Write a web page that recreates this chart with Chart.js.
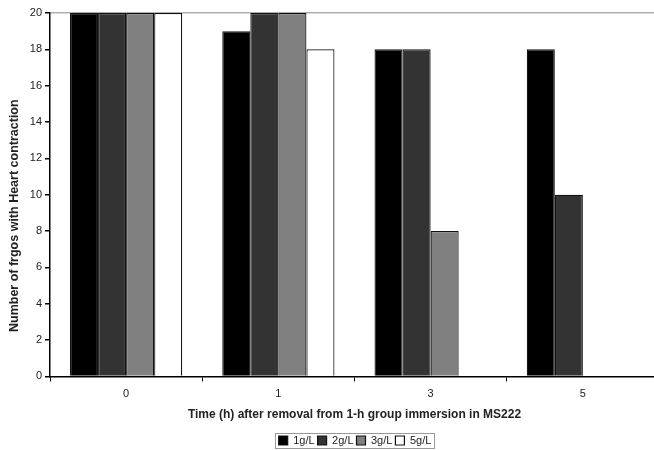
<!DOCTYPE html>
<html>
<head>
<meta charset="utf-8">
<script src="https://cdn.jsdelivr.net/npm/chart.js@4/dist/chart.umd.min.js"></script>
<style>
  html, body { margin: 0; padding: 0; overflow: hidden; background: #fff; }
  #wrap { width: 710px; height: 450px; overflow: hidden; }
</style>
</head>
<body>
<div id="wrap"><canvas id="myChart" width="710" height="456"></canvas></div>
<script>
// categories (time in h) and one array per concentration
const times = ["0", "1", "3", "5"];
const dose1 = [20, 19, 18, 18];
const dose2 = [20, 20, 18, 10];
const dose3 = [20, 20, 8, 0];
const dose5 = [20, 18, 0, 0];
const yTicks = [0, 2, 4, 6, 8, 10, 12, 14, 16, 18, 20];
const yTitle = "Number of frgos with Heart contraction";

Chart.defaults.font.family = "'Liberation Sans', Arial, sans-serif";
Chart.defaults.color = "#222";

const makeSet = (label, values, fill) => ({
  label: label,
  data: values,
  backgroundColor: fill,
  borderColor: "#111",
  borderWidth: 1.2,
  borderSkipped: "start",
  categoryPercentage: 0.737,
  barPercentage: 1,
});

// grey frame around the legend + y title sitting a bit low like the original
const extras = {
  id: "extras",
  afterDraw(chart) {
    const ctx = chart.ctx;
    const boxes = chart.legend && chart.legend.legendHitBoxes;
    if (boxes && boxes.length) {
      let left = Infinity, right = -Infinity, top = Infinity, bottom = -Infinity;
      boxes.forEach((b) => {
        left = Math.min(left, b.left);
        right = Math.max(right, b.left + b.width);
        top = Math.min(top, b.top);
        bottom = Math.max(bottom, b.top + b.height);
      });
      ctx.save();
      ctx.strokeStyle = "#999";
      ctx.lineWidth = 1;
      ctx.strokeRect(Math.round(left - 4) + 0.5, Math.round(top - 2) + 0.5,
        Math.round(right - left + 6), Math.round(bottom - top + 4));
      ctx.restore();
    }
    const area = chart.chartArea;
    ctx.save();
    ctx.translate(15, (area.top + area.bottom) / 2 + 21);
    ctx.rotate(-Math.PI / 2);
    ctx.font = "bold 12.5px 'Liberation Sans', Arial, sans-serif";
    ctx.fillStyle = "#222";
    ctx.textAlign = "center";
    ctx.textBaseline = "middle";
    ctx.fillText(yTitle, 0, 0);
    ctx.restore();
  },
};

const config = {
  type: "bar",
  data: {
    labels: times,
    datasets: [
      makeSet("1g/L", dose1, "#000000"),
      makeSet("2g/L", dose2, "#333333"),
      makeSet("3g/L", dose3, "#808080"),
      makeSet("5g/L", dose5, "#ffffff"),
    ],
  },
  options: {
    responsive: false,
    animation: false,
    layout: { padding: { top: 13, bottom: 0 } },
    plugins: {
      tooltip: { enabled: false },
      legend: {
        position: "bottom",
        labels: {
          boxWidth: 9,
          boxHeight: 9,
          padding: 3,
          font: { size: 11 },
          color: "#222",
        },
      },
    },
    scales: {
      x: {
        grid: {
          offset: true,
          drawOnChartArea: false,
          tickLength: 5,
          tickColor: "#000",
        },
        border: { color: "#000", width: 1.5 },
        ticks: { font: { size: 11 }, padding: 6 },
        title: {
          display: true,
          text: "Time (h) after removal from 1-h group immersion in MS222",
          font: { size: 12, weight: "bold" },
          padding: { top: 1, bottom: 10 },
        },
      },
      y: {
        min: 0,
        max: 20,
        afterBuildTicks(scale) {
          scale.ticks = yTicks.map((v) => ({ value: v }));
        },
        afterFit(scale) {
          scale.width = 50;
        },
        grid: {
          color: (c) => (c.tick && c.tick.value === 20 ? "#b0b0b0" : "rgba(0,0,0,0)"),
          lineWidth: 1.5,
          tickLength: 5,
          tickColor: "#000",
        },
        border: { color: "#000", width: 1.5 },
        ticks: { font: { size: 11 }, padding: 3 },
      },
      // empty right axis, only keeps the plot wide as in the original crop
      yRight: {
        type: "linear",
        position: "right",
        grid: { display: false },
        border: { display: false },
        ticks: { display: false },
        afterFit(scale) {
          scale.width = 51;
        },
      },
    },
  },
  plugins: [extras],
};

const context = document.getElementById("myChart").getContext("2d");
const chart = new Chart(context, config);
</script>
</body>
</html>
